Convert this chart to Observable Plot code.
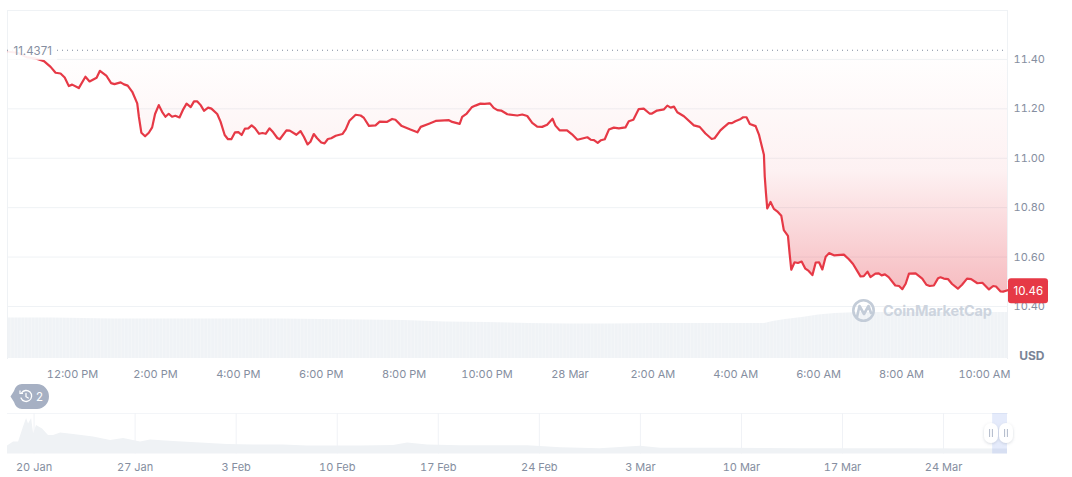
<!DOCTYPE html>
<html><head><meta charset="utf-8">
<script src="https://cdn.jsdelivr.net/npm/d3@7"></script>
<script src="https://cdn.jsdelivr.net/npm/@observablehq/plot@0.6"></script>
<style>
html,body{margin:0;padding:0;background:#fff;overflow:hidden}
#page{position:relative;width:1072px;height:477px;overflow:hidden;font-family:Inter,sans-serif}
#page>svg,#page>div{position:absolute;left:0}
</style></head><body><div id="page"></div>
<script>
// hours since 27 Mar 00:00
const hours = [10.46,10.67,10.91,11.11,11.31,11.47,11.59,11.71,11.81,11.91,11.99,12.15,12.31,12.41,12.58,12.66,12.82,12.93,13.01,13.16,13.24,13.33,13.44,13.56,13.60,13.66,13.75,13.84,13.92,13.99,14.08,14.16,14.24,14.32,14.40,14.48,14.58,14.67,14.75,14.85,14.93,15.01,15.09,15.17,15.27,15.35,15.49,15.57,15.67,15.75,15.83,15.92,16.00,16.08,16.16,16.24,16.32,16.40,16.50,16.58,16.66,16.75,16.84,16.94,17.00,17.16,17.24,17.40,17.50,17.58,17.67,17.74,17.82,17.90,18.00,18.08,18.16,18.24,18.35,18.51,18.59,18.68,18.83,
18.95,19.03,19.15,19.31,19.41,19.58,19.71,19.79,19.93,20.15,20.32,20.40,20.60,20.76,21.08,21.16,21.34,21.40,21.51,21.63,21.72,21.84,21.94,22.07,22.16,22.25,22.34,22.49,22.73,22.85,22.97,23.09,23.21,23.33,23.45,23.58,23.65,23.75,23.93,24.05,24.18,24.42,24.50,24.58,24.67,24.75,24.84,24.94,25.06,25.18,25.34,25.42,25.53,25.66,25.78,25.92,25.98,26.10,26.27,26.35,26.43,26.51,26.59,26.75,26.99,27.13,27.27,27.42,27.49,
27.63,27.71,27.83,27.91,27.99,28.12,28.18,28.26,28.34,28.48,28.56,28.61,28.68,28.70,28.73,28.76,28.84,28.92,29.00,29.10,29.16,29.26,29.30,29.34,29.42,29.50,29.59,29.68,29.76,29.85,29.93,30.01,30.09,30.17,30.25,30.37,30.61,30.73,30.83,30.93,31.01,31.09,31.18,31.25,31.37,31.45,31.52,31.60,31.69,31.85,31.94,32.02,32.10,32.18,32.34,32.50,32.60,32.68,32.78,32.88,32.94,33.02,33.12,33.22,33.36,33.46,33.58,33.68,33.83,33.95,34.11,34.21,34.28,34.39,34.45,34.56];
const prices = [11.431,11.427,11.408,11.404,11.393,11.370,11.346,11.343,11.327,11.292,11.298,11.284,11.330,11.311,11.326,11.354,11.333,11.304,11.300,11.307,11.299,11.294,11.269,11.222,11.168,11.103,11.089,11.103,11.125,11.179,11.215,11.188,11.168,11.180,11.168,11.172,11.165,11.198,11.221,11.207,11.230,11.230,11.215,11.192,11.205,11.201,11.179,11.148,11.094,11.077,11.077,11.105,11.106,11.094,11.120,11.121,11.133,11.122,11.099,11.102,11.099,11.121,11.105,11.082,11.077,11.113,11.112,11.095,11.110,11.087,11.056,11.067,11.098,11.081,11.064,11.060,11.078,11.081,11.091,11.098,11.117,11.152,11.176,
11.173,11.163,11.131,11.133,11.148,11.147,11.159,11.156,11.132,11.116,11.105,11.127,11.140,11.151,11.154,11.147,11.139,11.167,11.181,11.206,11.213,11.221,11.220,11.222,11.204,11.195,11.193,11.178,11.173,11.177,11.171,11.143,11.128,11.127,11.136,11.160,11.132,11.113,11.113,11.097,11.075,11.085,11.075,11.073,11.062,11.073,11.077,11.116,11.124,11.121,11.125,11.150,11.156,11.199,11.201,11.181,11.181,11.193,11.198,11.213,11.205,11.209,11.186,11.170,11.133,11.127,11.100,11.078,11.081,
11.113,11.125,11.142,11.142,11.150,11.159,11.166,11.166,11.139,11.130,11.096,11.062,11.014,10.926,10.858,10.797,10.823,10.795,10.785,10.767,10.709,10.686,10.614,10.549,10.579,10.576,10.582,10.553,10.544,10.527,10.578,10.579,10.550,10.601,10.616,10.607,10.610,10.591,10.572,10.544,10.522,10.523,10.541,10.519,10.533,10.534,10.526,10.530,10.519,10.485,10.483,10.470,10.492,10.533,10.534,10.513,10.488,10.483,10.485,10.514,10.518,10.513,10.511,10.491,10.472,10.488,10.513,10.511,10.494,10.496,10.469,10.483,10.481,10.461,10.460,10.466];
const startPrice = 11.4371, lastPrice = "10.46", lastValue = 10.46;
const priceTicks = [10.4,10.6,10.8,11.0,11.2,11.4];
const timeTickHours = [12,14,16,18,20,22,24,26,28,30,32,34];
const timeTickLabels = ["12:00 PM","2:00 PM","4:00 PM","6:00 PM","8:00 PM","10:00 PM","28 Mar","2:00 AM","4:00 AM","6:00 AM","8:00 AM","10:00 AM"];
// 24h volume, relative height
const volHours = [10.43,11.5,13,15,17,19,20,21,22,23,24,25,26,27,28,28.7,28.9,29.2,29.6,30,30.4,31,32,33,34.56];
const volumes = [40.5,40.5,39.5,39.5,39.5,38.5,38,36.5,36,35,34.5,34.5,35,35,35,35,37,39,41,43.5,45,46,46,46,46];
// overview strip: days since 20 Jan
const overviewDays = [-1.84,-1.42,-1.07,-.73,-.52,-.38,-.17,-.03,.17,.59,1,1.35,1.84,2.74,4.12,5.3,6.2,7.38,8.07,9.66,11.53,13.4,15.2,17.28,18.94,20.75,22.6,24.9,25.87,27.26,29.5,34.2,36.5,39.2,42,43.4,48,53.1,60,67.43];
const overviewValues = [8,12,12,27,35.5,30,35.5,20,28.5,25,18.5,18.5,21,19.5,17,13.5,15.5,12,14,12.5,11,9.5,9,9,8,8,8,8.5,11,9,8.2,8.2,6.2,5.2,7.8,5.8,5.8,5.2,5.2,5];
const weekDays = [0,7,14,21,28,35,42,49,56,63];
const weekLabels = ["20 Jan","27 Jan","3 Feb","10 Feb","17 Feb","24 Feb","3 Mar","10 Mar","17 Mar","24 Mar"];
const selectedDays = [66.4,67.43];

const T0 = Date.UTC(2023,2,27), D0 = Date.UTC(2023,0,20);
const atHour = h => new Date(T0 + h*3600e3);
const atDay = d => new Date(D0 + d*864e5);
const series = hours.map((h,i)=>({t:atHour(h),p:prices[i]}));
const volSeries = volHours.map((h,i)=>({t:atHour(h),v:volumes[i]}));
const ovSeries = overviewDays.map((d,i)=>({t:atDay(d),v:overviewValues[i]}));
const xDomain = [atHour(10.43),atHour(34.557)];
const grid="#eff2f5", txt="#858ea0", red="#e63946";
const page=document.getElementById("page");
const fontStyle={background:"transparent",fontFamily:"Inter,sans-serif",fontSize:"11px",color:txt,overflow:"visible"};

// volume layer
const vol=Plot.plot({width:1072,height:385,marginLeft:7,marginRight:65,marginTop:10,marginBottom:27,
  style:fontStyle,
  x:{type:"utc",domain:xDomain,axis:null},
  y:{domain:[0,348],axis:null},
  marks:[
    ()=>{const g=d3.create("svg:defs");
      const p=g.append("pattern").attr("id","volStripes").attr("patternUnits","userSpaceOnUse").attr("width",3.45).attr("height",10);
      p.append("rect").attr("width",3.45).attr("height",10).attr("fill","#f0f3f6");
      p.append("rect").attr("width",.9).attr("height",10).attr("fill","#f4f6f8");
      return g.node();},
    Plot.areaY(volSeries,{x:"t",y:"v",fill:"url(#volStripes)"})
  ]});
vol.style.top="0";page.append(vol);

// price layer
const main=Plot.plot({width:1072,height:385,marginLeft:7,marginRight:65,marginTop:10,marginBottom:27,
  style:fontStyle,
  x:{type:"utc",domain:xDomain,axis:null},
  y:{domain:[10.1895,11.598],axis:null},
  marks:[
    ()=>{const g=d3.create("svg:defs");
      const l=g.append("linearGradient").attr("id","fade").attr("x1",0).attr("x2",0).attr("y1",0).attr("y2",1);
      l.append("stop").attr("offset","0%").attr("stop-color",red).attr("stop-opacity",0);
      l.append("stop").attr("offset","50%").attr("stop-color",red).attr("stop-opacity",.07);
      l.append("stop").attr("offset","100%").attr("stop-color",red).attr("stop-opacity",.34);
      return g.node();},
    Plot.ruleY(priceTicks,{stroke:grid,strokeWidth:1}),
    Plot.areaY(series,{x:"t",y1:()=>startPrice,y2:"p",fill:"url(#fade)"}),
    Plot.frame({anchor:"top",stroke:grid}),
    Plot.frame({anchor:"left",stroke:grid}),
    Plot.frame({anchor:"right",stroke:grid}),
    Plot.axisY(priceTicks,{anchor:"right",tickSize:0,tickPadding:6,tickFormat:d=>d.toFixed(2),label:null,textAnchor:"start",fill:txt,fontSize:11}),
    Plot.axisX(timeTickHours.map(atHour),{anchor:"bottom",tickSize:0,tickPadding:12,label:null,fill:txt,fontSize:11,
      tickFormat:d=>timeTickLabels[timeTickHours.indexOf((d-T0)/3600e3)]}),
    Plot.line(series,{x:"t",y:"p",stroke:red,strokeWidth:2.2,strokeLinejoin:"round"}),
    Plot.ruleY([startPrice],{stroke:"#808a9d",strokeWidth:1,strokeDasharray:"1 4"}),
    (index,{y},values,dim)=>{const g=d3.create("svg:g");
      g.append("rect").attr("x",dim.marginLeft+1).attr("y",y(startPrice)-7).attr("width",49).attr("height",17).attr("fill","#fff").attr("fill-opacity",.92);
      g.append("rect").attr("x",dim.width-dim.marginRight+1).attr("y",y(lastValue)-13).attr("width",40).attr("height",25).attr("rx",3).attr("fill",red);
      return g.node();},
    Plot.text([startPrice],{x:()=>xDomain[0],y:d=>d,text:d=>String(d),textAnchor:"start",dx:6,dy:1,fill:txt,fontSize:11.5}),
    Plot.text([lastValue],{x:()=>xDomain[1],y:d=>d,text:()=>lastPrice,textAnchor:"start",dx:6,fill:"#fff",fontSize:11.5}),
    Plot.text(["USD"],{frameAnchor:"bottom-right",dx:37,dy:1,textAnchor:"end",fill:"#7a8496",fontWeight:700,fontSize:12})
  ]});
main.style.top="0";page.append(main);

// overview strip
const ov=Plot.plot({width:1072,height:77,marginLeft:7,marginRight:65,marginTop:13,marginBottom:23.5,
  style:fontStyle,
  x:{type:"utc",domain:[atDay(-1.84),atDay(67.43)],axis:null},
  y:{domain:[0,40.5],axis:null},
  marks:[
    Plot.frame({anchor:"top",stroke:"#f3f5f8"}),
    Plot.ruleX(weekDays.map(atDay),{stroke:"#f0f2f6",strokeWidth:1}),
    Plot.areaY(ovSeries,{x:"t",y:"v",fill:grid}),
    Plot.rectY([0],{x1:()=>atDay(selectedDays[0]),x2:()=>atDay(selectedDays[1]),y1:()=>0,y2:()=>40.5,fill:"#4a6fe0",fillOpacity:.14}),
    Plot.axisX(weekDays.map(atDay),{anchor:"bottom",tickSize:0,tickPadding:9,label:null,fill:txt,fontSize:11,
      tickFormat:d=>weekLabels[weekDays.indexOf((d-D0)/864e5)]})
  ]});
ov.style.top="400px";page.append(ov);

// decorations: watermark, handles, history badge
const deco=document.createElementNS("http://www.w3.org/2000/svg","svg");
deco.setAttribute("width",1072);deco.setAttribute("height",477);deco.style.top="0";
deco.innerHTML=`
<defs><filter id="sh" x="-50%" y="-50%" width="200%" height="200%"><feDropShadow dx="0" dy="1" stdDeviation="1.5" flood-color="#8a94a6" flood-opacity=".35"/></filter></defs>
<g fill="none" stroke="#c3ccd8" stroke-width="2.6" stroke-linecap="round" stroke-linejoin="round">
<circle cx="863.5" cy="310.5" r="10.2"/>
<path d="M857 317 L859.5 306 L864 314 L868.5 306 L871 313"/></g>
<text x="883" y="316" font-family="Inter,sans-serif" font-size="14.5" font-weight="700" fill="#cdd4de" textLength="109">CoinMarketCap</text>
<path d="M22 384 H37 A12 12.5 0 0 1 37 409 H22 Q16 409 14 402 L10.5 396.5 L14 391 Q16 384 22 384Z" fill="#a6b0c3"/>
<g fill="none" stroke="#fff" stroke-width="1.3" stroke-linecap="round"><path d="M21.5 393 A5.5 5.5 0 1 1 21 398"/><path d="M26 393.5 V396.7 L28.3 398"/></g>
<path d="M20 390.5 V393.5 H23" fill="none" stroke="#fff" stroke-width="1.2"/>
<text x="36" y="400.5" font-family="Inter,sans-serif" font-size="11.5" fill="#fff">2</text>
<g filter="url(#sh)" fill="#fff"><rect x="984" y="423" width="14" height="20" rx="7"/><rect x="999" y="423" width="14" height="20" rx="7"/></g>
<g stroke="#a6b0c3" stroke-width=".9"><path d="M989.6 429V437M992.4 429V437M1004.6 429V437M1007.4 429V437"/></g>`;
page.append(deco);
</script></body></html>
